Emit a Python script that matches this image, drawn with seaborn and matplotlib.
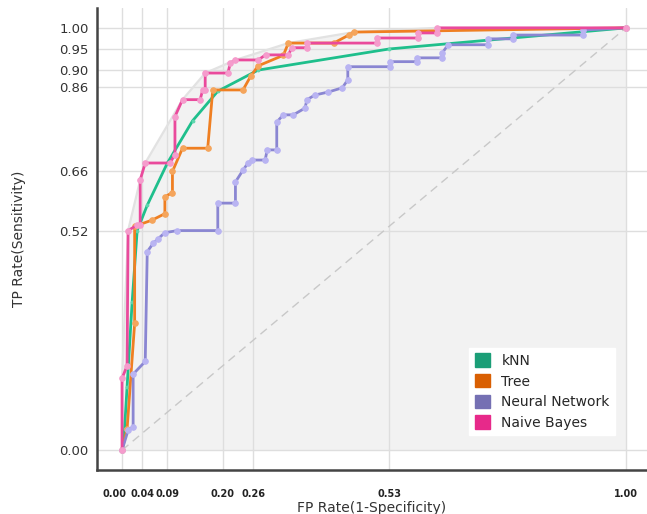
import numpy as np
import pandas as pd
import matplotlib
matplotlib.use("Agg")
import matplotlib.pyplot as plt
import matplotlib.transforms as mtransforms
from matplotlib.patches import Patch
import seaborn as sns

# ROC points
knn_fpr = [0.0, 0.005, 0.01, 0.02, 0.03, 0.05, 0.09, 0.14, 0.19, 0.27, 0.53, 1.0]
knn_tpr = [0.0, 0.05, 0.15, 0.35, 0.52, 0.58, 0.68, 0.78, 0.85, 0.90, 0.95, 1.0]

tree_fpr = [0.0, 0.01, 0.025, 0.025, 0.06, 0.085, 0.085, 0.10, 0.10, 0.12, 0.17, 0.18,
            0.24, 0.255, 0.27, 0.32, 0.33, 0.42, 0.45, 0.46, 1.0]
tree_tpr = [0.0, 0.05, 0.30, 0.53, 0.545, 0.56, 0.60, 0.61, 0.66, 0.715, 0.715, 0.853,
            0.853, 0.885, 0.91, 0.935, 0.964, 0.964, 0.983, 0.99, 1.0]

nn_fpr = [0.0, 0.012, 0.022, 0.022, 0.046, 0.05, 0.062, 0.071, 0.085, 0.11, 0.19, 0.19,
          0.225, 0.225, 0.24, 0.25, 0.258, 0.284, 0.288, 0.307, 0.307, 0.32, 0.34, 0.363,
          0.367, 0.383, 0.409, 0.437, 0.448, 0.448, 0.532, 0.532, 0.585, 0.585, 0.635,
          0.635, 0.647, 0.726, 0.726, 0.776, 0.776, 0.915, 0.915, 1.0]
nn_tpr = [0.0, 0.047, 0.055, 0.18, 0.21, 0.47, 0.49, 0.50, 0.515, 0.52, 0.52, 0.585,
          0.585, 0.635, 0.663, 0.68, 0.687, 0.687, 0.711, 0.711, 0.777, 0.794, 0.794, 0.81,
          0.83, 0.841, 0.848, 0.858, 0.877, 0.908, 0.908, 0.92, 0.92, 0.929, 0.929,
          0.94, 0.96, 0.96, 0.974, 0.974, 0.983, 0.983, 0.995, 1.0]

nb_fpr = [0.0, 0.0, 0.01, 0.012, 0.03, 0.036, 0.036, 0.046, 0.095, 0.105, 0.105, 0.12,
          0.155, 0.16, 0.165, 0.165, 0.21, 0.215, 0.225, 0.27, 0.285, 0.33, 0.337, 0.367,
          0.367, 0.506, 0.506, 0.587, 0.587, 0.625, 0.625, 1.0]
nb_tpr = [0.0, 0.17, 0.20, 0.52, 0.533, 0.533, 0.64, 0.68, 0.68, 0.70, 0.79, 0.83,
          0.83, 0.853, 0.853, 0.893, 0.893, 0.917, 0.924, 0.924, 0.936, 0.936, 0.953, 0.953,
          0.964, 0.964, 0.976, 0.976, 0.988, 0.988, 1.0, 1.0]

models = ["kNN", "Tree", "Neural Network", "Naive Bayes"]
x_ticks = [0.00, 0.04, 0.09, 0.20, 0.26, 0.53, 1.00]
y_ticks = [0.00, 0.52, 0.66, 0.86, 0.90, 0.95, 1.00]

line_colors = ["#1b9e77", "#d95f02", "#7570b3", "#e7298a"]
plot_colors = ["#1fbf8c", "#ef7f22", "#8a86d2", "#ea4a9c"]
marker_colors = ["#5fd6ae", "#f5a55c", "#b9b4f2", "#f59ccc"]


def convex_hull_upper(xs, ys):
    pts = sorted(set(zip(xs, ys)))
    hull = []
    for p in pts:
        while len(hull) >= 2:
            (x1, y1), (x2, y2) = hull[-2], hull[-1]
            cross = (x2 - x1) * (p[1] - y1) - (y2 - y1) * (p[0] - x1)
            if cross >= 0:
                hull.pop()
            else:
                break
        hull.append(p)
    return hull


curves = [(knn_fpr, knn_tpr), (tree_fpr, tree_tpr), (nn_fpr, nn_tpr), (nb_fpr, nb_tpr)]
all_x = sum([c[0] for c in curves], [])
all_y = sum([c[1] for c in curves], [])
hull = convex_hull_upper(all_x, all_y)
hull_x = [p[0] for p in hull]
hull_y = [p[1] for p in hull]

sns.set_style("white")
plt.rcParams["font.family"] = ["DejaVu Sans"]

fig = plt.figure(figsize=(6.47, 5.14), dpi=100)
ax = fig.add_axes([0.15, 0.0856, 0.85, 0.8988])

# area under hull
ax.fill(hull_x + [1.0, 0.0], hull_y + [0.0, 0.0], color="#f2f2f2", zorder=0.3, lw=0)
ax.plot(hull_x, hull_y, color="#e2e2e2", lw=1.6, zorder=0.6)
ax.plot([0, 1], [0, 1], color="#c8c8c8", lw=1, ls=(0, (6, 4)), zorder=0.7)

for (fx, ty), name, lc, mc in zip(curves, models, plot_colors, marker_colors):
    df = pd.DataFrame({"fpr": fx, "tpr": ty})
    ms = 2 if name == "kNN" else 4
    sns.lineplot(data=df, x="fpr", y="tpr", sort=False, estimator=None, color=lc,
                 lw=2, marker="o", markersize=ms, markerfacecolor=mc,
                 markeredgecolor=mc, ax=ax, zorder=3)

ax.set_xlim(-0.0496, 1.0417)
ax.set_ylim(-0.047, 1.047)
ax.set_xticks(x_ticks)
ax.set_yticks(y_ticks)
ax.set_xticklabels([f"{v:.2f}" for v in x_ticks], fontsize=7, fontweight="bold",
                   color="#222222")
ax.set_yticklabels([f"{v:.2f}" for v in y_ticks], fontsize=9.5, color="#333333")
ax.tick_params(axis="x", length=0, pad=14)
ax.tick_params(axis="y", length=0, pad=6)
ax.grid(True, color="#dedede", lw=1)
ax.set_axisbelow(True)

# nudge crowded first x label to the left like the reference
lbl0 = ax.get_xticklabels()[0]
lbl0.set_transform(lbl0.get_transform() +
                   mtransforms.ScaledTranslation(-8 / 100, 0, fig.dpi_scale_trans))

for side in ["top", "right"]:
    ax.spines[side].set_visible(False)
for side in ["left", "bottom"]:
    ax.spines[side].set_color("#444444")
    ax.spines[side].set_linewidth(1.8)

ax.set_xlabel("FP Rate(1-Specificity)", fontsize=10, color="#333333", labelpad=1)
ax.set_ylabel("TP Rate(Sensitivity)", fontsize=10, color="#333333", labelpad=24)

handles = [Patch(facecolor=c, edgecolor=c, label=m) for c, m in zip(line_colors, models)]
leg = ax.legend(handles=handles, loc="lower right", bbox_to_anchor=(0.955, 0.06),
                frameon=True, fancybox=False, fontsize=10, handlelength=1.1,
                handleheight=1.1, labelspacing=0.45, borderpad=0.4)
leg.get_frame().set_edgecolor("white")
leg.get_frame().set_facecolor("white")
leg.get_frame().set_alpha(1)

fig.savefig("out.png", dpi=100)
